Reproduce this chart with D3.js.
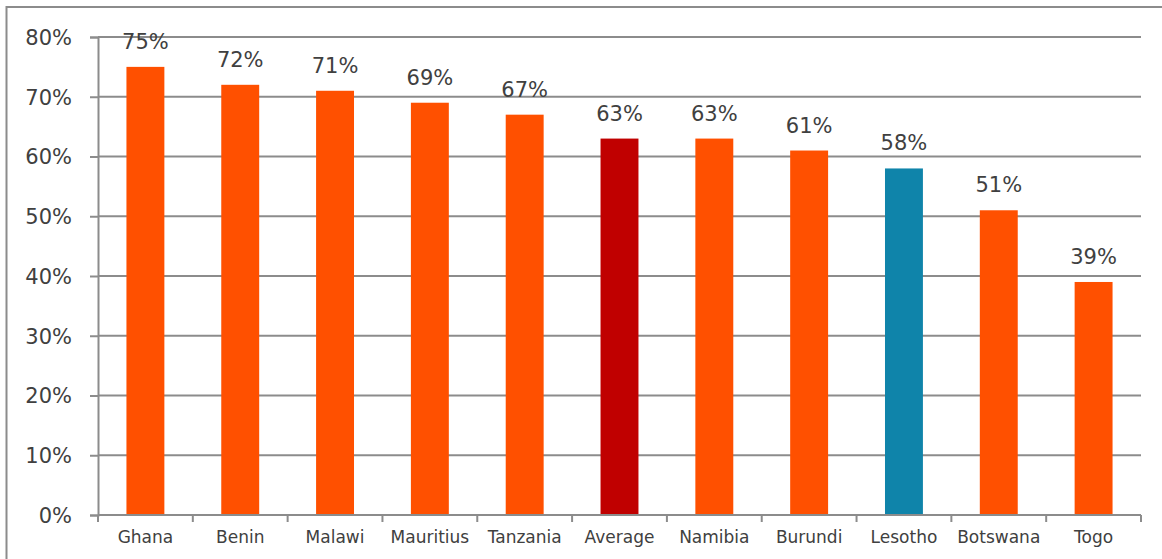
<!DOCTYPE html>
<html>
<head>
<meta charset="utf-8">
<script src="https://cdn.jsdelivr.net/npm/d3@7"></script>
<style>
  body { margin: 0; background: #fff; }
  svg { display: block; }
  .tick text { fill: #404040; }
</style>
</head>
<body>
<svg id="chart" width="1162" height="559"></svg>
<script>
// values
let countries = ["Ghana", "Benin", "Malawi", "Mauritius", "Tanzania", "Average", "Namibia", "Burundi", "Lesotho", "Botswana", "Togo"];
let shares = [75, 72, 71, 69, 67, 63, 63, 61, 58, 51, 39];
let yTicks = [0, 10, 20, 30, 40, 50, 60, 70, 80];

const ORANGE = "#ff5000";
const colorFor = function(name) {
    if (name == "Average") return "#c00000";
    if (name == "Lesotho") return "#0f84aa";
    return ORANGE;
};

let width = 1162;
let height = 559;
let margin = {left: 98, right: 21, top: 37, bottom: 44};

let svg = d3.select("#chart");

// outer frame
svg.append("rect")
    .attr("x", 6.5).attr("y", 7)
    .attr("width", width + 10).attr("height", height + 10)
    .attr("fill", "none")
    .attr("stroke", "#8c8c8c")
    .attr("stroke-width", 2);

let x = d3.scaleBand()
    .domain(countries)
    .range([margin.left, width - margin.right])
    .paddingInner(0.6)
    .paddingOuter(0.3);

let y = d3.scaleLinear()
    .domain([0, 80])
    .range([height - margin.bottom, margin.top]);

// gridlines
svg.append("g")
    .selectAll("line")
    .data(yTicks)
    .join("line")
    .attr("x1", margin.left)
    .attr("x2", width - margin.right)
    .attr("y1", d => y(d))
    .attr("y2", d => y(d))
    .attr("stroke", "#8c8c8c")
    .attr("stroke-width", 2);

// y axis
let yAxis = svg.append("g")
    .attr("transform", "translate(" + margin.left + ",0)")
    .call(d3.axisLeft(y).tickValues(yTicks).tickFormat(d => d + "%").tickSize(8).tickPadding(18));
yAxis.selectAll("line, path").attr("stroke", "#8c8c8c").attr("stroke-width", 2);
yAxis.selectAll("text")
    .attr("font-family", "'DejaVu Sans', sans-serif")
    .attr("font-size", 21)
    .attr("dy", "0.35em");

// bars
svg.append("g")
    .selectAll("rect")
    .data(countries)
    .join("rect")
    .attr("x", d => x(d))
    .attr("width", x.bandwidth())
    .attr("y", (d, i) => y(shares[i]))
    .attr("height", (d, i) => y(0) - y(shares[i]))
    .attr("fill", d => colorFor(d));

// x axis, ticks between the categories
let xTickPos = d3.range(countries.length + 1).map(i => margin.left + i * (width - margin.left - margin.right) / countries.length);
let xAxis = svg.append("g");
xAxis.append("line")
    .attr("x1", margin.left).attr("x2", width - margin.right)
    .attr("y1", y(0)).attr("y2", y(0))
    .attr("stroke", "#8c8c8c").attr("stroke-width", 2);
xAxis.selectAll(".xt")
    .data(xTickPos)
    .join("line")
    .attr("class", "xt")
    .attr("x1", d => d).attr("x2", d => d)
    .attr("y1", y(0)).attr("y2", y(0) + 7)
    .attr("stroke", "#8c8c8c").attr("stroke-width", 2);
xAxis.selectAll("text")
    .data(countries)
    .join("text")
    .attr("x", d => x(d) + x.bandwidth() / 2)
    .attr("y", y(0) + 28)
    .attr("text-anchor", "middle")
    .attr("font-family", "'DejaVu Sans', sans-serif")
    .attr("font-size", 17)
    .attr("fill", "#404040")
    .text(d => d);

// value labels
svg.append("g")
    .selectAll("text")
    .data(countries)
    .join("text")
    .attr("x", d => x(d) + x.bandwidth() / 2)
    .attr("y", (d, i) => y(shares[i]) - 18)
    .attr("text-anchor", "middle")
    .attr("font-family", "'DejaVu Sans', sans-serif")
    .attr("font-size", 21)
    .attr("fill", "#404040")
    .text((d, i) => shares[i] + "%");
</script>
</body>
</html>
